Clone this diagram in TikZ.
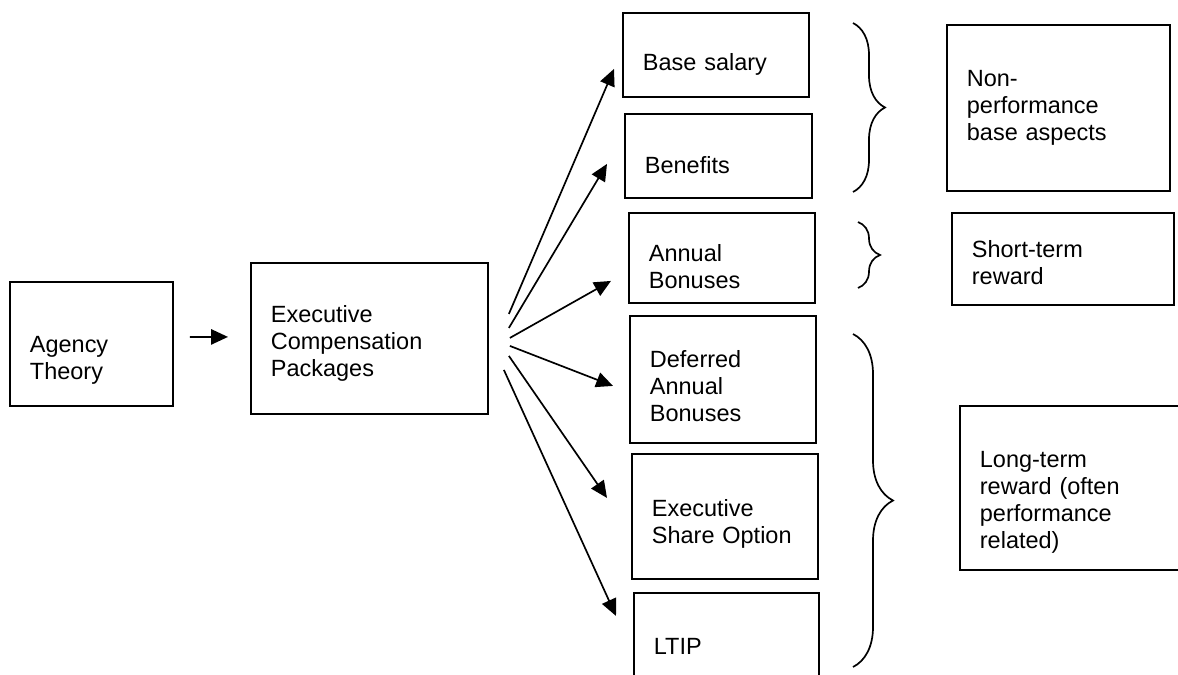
\documentclass[tikz,border=0pt]{standalone}
\usepackage{fontspec}
\setmainfont{Liberation Sans}
\usepackage{tikz}
\usetikzlibrary{arrows.meta, positioning, calc, decorations.pathreplacing}

\begin{document}
\begin{tikzpicture}[
  x=0.025cm, y=-0.025cm,
  block/.style 2 args={rectangle, draw=black, line width=1.3pt, anchor=north west, align=left, inner xsep=0.5cm, inner ysep=0pt, minimum width=#1, text width=#1-1cm, minimum height=#2, font=\fontsize{16.7}{19.2}\selectfont},
  line/.style={draw=black, -{Triangle[length=4.2mm, width=3.8mm]}, line width=1.2pt},
  curly/.style={draw=black, line width=1.2pt, decorate, decoration={brace, amplitude=#1}}
]
  \useasboundingbox (0,0) rectangle (1178,675);
  \clip (0,0) rectangle (1178,675);

  % Theory and packages
  \node[block={4.075cm}{3.1cm}, text height=35pt] (agency) at (9,281) {Agency\\Theory};
  \node[block={5.925cm}{3.775cm}, text height=19.3pt] (comp) at (250,262) {Executive\\Compensation\\Packages};

  % Package components
  \node[block={4.65cm}{2.1cm}, text height=25pt] (base) at (622,12) {Base salary};
  \node[block={4.675cm}{2.1cm}, text height=25pt] (benefit) at (624,113) {Benefits};
  \node[block={4.65cm}{2.25cm}, text height=25pt] (annual) at (628,212) {Annual\\Bonuses};
  \node[block={4.65cm}{3.175cm}, text height=22.2pt] (deferred) at (629,315) {Deferred\\Annual\\Bonuses};
  \node[block={4.65cm}{3.125cm}, text height=22.2pt] (share) at (631,453) {Executive\\Share Option};
  \node[block={4.625cm}{2.65cm}] (ltip) at (633,592) {LTIP};

  % Groupings
  \node[block={5.575cm}{4.15cm}] (nonperf) at (946,24) {Non-\\performance\\base aspects};
  \node[block={5.55cm}{2.3cm}, text height=17.9pt] (shortterm) at (951,212) {Short-term\\reward};
  \node[block={6.5cm}{4.1cm}, text height=32pt] (longterm) at (959,405) {Long-term\\reward (often\\performance\\related)};

  % Braces
  \draw[curly=0.8cm] (853,23) -- (853,192);
  \draw[curly=0.55cm] (858,222) -- (858,288);
  \draw[curly=1cm] (853,334) -- (853,667);

  % Connections
  \path[line] ([shift={(16,-7)}]agency.east) -- ([shift={(-22,-1.5)}]comp.west);
  \path[line] ([shift={(20,-24.5)}]comp.east) -- ([shift={(-8,14)}]base.west);
  \path[line] ([shift={(20,-10.5)}]comp.east) -- ([shift={(-17,8)}]benefit.west);
  \path[line] ([shift={(21,-0.5)}]comp.east) -- ([shift={(-17,23)}]annual.west);
  \path[line] ([shift={(21,7.5)}]comp.east) -- ([shift={(-16,6.5)}]deferred.west);
  \path[line] ([shift={(20,17.5)}]comp.east) -- ([shift={(-24,-18.5)}]share.west);
  \path[line] ([shift={(15,31.5)}]comp.east) -- ([shift={(-17,-30)}]ltip.west);

\end{tikzpicture}
\end{document}
